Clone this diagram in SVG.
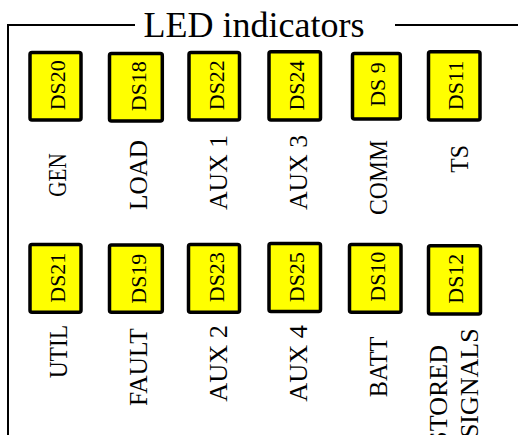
<svg xmlns="http://www.w3.org/2000/svg" width="518" height="435" viewBox="0 0 518 435">
<style>
.frame{fill:none;stroke:#000;stroke-width:2}
.led{fill:#ffff00;stroke:#000;stroke-width:3.5}
.ds{font-family:"Liberation Serif","Times New Roman",serif;font-size:22px;fill:#000;text-anchor:middle}
.lbl{font-family:"Liberation Serif","Times New Roman",serif;font-size:26px;fill:#000}
.title{font-family:"Liberation Serif","Times New Roman",serif;font-size:36px;fill:#000}
</style>
<rect width="518" height="435" fill="#fff"/>
<g id="frame">
<polyline class="frame" points="135,25 8,25 8,435"/>
<line class="frame" x1="395" y1="25" x2="518" y2="25"/>
<text class="title" x="143.5" y="37">LED indicators</text>
</g>
<g id="connectors"/>
<g id="DS20"><rect class="led" x="30" y="52.5" width="51" height="67.5" rx="2"/><text class="ds" transform="translate(65,85.3) rotate(-90)">DS20</text></g>
<g id="DS18"><rect class="led" x="109.5" y="53.5" width="52.8" height="67.5" rx="2"/><text class="ds" transform="translate(145.7,86.2) rotate(-90)">DS18</text></g>
<g id="DS22"><rect class="led" x="189" y="52.5" width="50.5" height="67.5" rx="2"/><text class="ds" transform="translate(224,85.2) rotate(-90)">DS22</text></g>
<g id="DS24"><rect class="led" x="269" y="51.8" width="51.5" height="68.2" rx="2"/><text class="ds" transform="translate(304,85.5) rotate(-90)">DS24</text></g>
<g id="DS9"><rect class="led" x="352.5" y="53.5" width="47.8" height="65.5" rx="2"/><text class="ds" transform="translate(385,84.5) rotate(-90)">DS 9</text></g>
<g id="DS11"><rect class="led" x="428.5" y="51.8" width="51.5" height="68.2" rx="2"/><text class="ds" transform="translate(463.3,85.5) rotate(-90)">DS11</text></g>
<g id="DS21"><rect class="led" x="30" y="244.5" width="51" height="67.8" rx="2"/><text class="ds" transform="translate(65,277.7) rotate(-90)">DS21</text></g>
<g id="DS19"><rect class="led" x="109.5" y="245" width="52.8" height="67.3" rx="2"/><text class="ds" transform="translate(145.7,278.7) rotate(-90)">DS19</text></g>
<g id="DS23"><rect class="led" x="188.5" y="244.5" width="51" height="67.8" rx="2"/><text class="ds" transform="translate(224,277.2) rotate(-90)">DS23</text></g>
<g id="DS25"><rect class="led" x="269" y="243.5" width="51.5" height="68" rx="2"/><text class="ds" transform="translate(304,277.2) rotate(-90)">DS25</text></g>
<g id="DS10"><rect class="led" x="349.5" y="244.5" width="51.5" height="67.8" rx="2"/><text class="ds" transform="translate(385,276.7) rotate(-90)">DS10</text></g>
<g id="DS12"><rect class="led" x="428.5" y="245.8" width="52" height="68.2" rx="2"/><text class="ds" transform="translate(463.3,278.7) rotate(-90)">DS12</text></g>
<g id="labels">
<text class="lbl" transform="translate(66,196.7) rotate(-90)" textLength="43.4" lengthAdjust="spacingAndGlyphs">GEN</text>
<text class="lbl" transform="translate(146.7,210) rotate(-90)" textLength="70" lengthAdjust="spacingAndGlyphs">LOAD</text>
<text class="lbl" transform="translate(226.7,210) rotate(-90)" textLength="75" lengthAdjust="spacingAndGlyphs">AUX 1</text>
<text class="lbl" transform="translate(306.7,210) rotate(-90)" textLength="75" lengthAdjust="spacingAndGlyphs">AUX 3</text>
<text class="lbl" transform="translate(386.7,215) rotate(-90)" textLength="75" lengthAdjust="spacingAndGlyphs">COMM</text>
<text class="lbl" transform="translate(467.7,172.7) rotate(-90)" textLength="27.7" lengthAdjust="spacingAndGlyphs">TS</text>
<text class="lbl" transform="translate(66.7,378.3) rotate(-90)" textLength="53.3" lengthAdjust="spacingAndGlyphs">UTIL</text>
<text class="lbl" transform="translate(146.7,406) rotate(-90)" textLength="77.7" lengthAdjust="spacingAndGlyphs">FAULT</text>
<text class="lbl" transform="translate(226.7,401.7) rotate(-90)" textLength="76.7" lengthAdjust="spacingAndGlyphs">AUX 2</text>
<text class="lbl" transform="translate(306.7,401.7) rotate(-90)" textLength="76.7" lengthAdjust="spacingAndGlyphs">AUX 4</text>
<text class="lbl" transform="translate(386.7,397.3) rotate(-90)" textLength="60.7" lengthAdjust="spacingAndGlyphs">BATT</text>
<text class="lbl" transform="translate(447.3,345) rotate(-90)" text-anchor="end">STORED</text>
<text class="lbl" transform="translate(478.3,328.3) rotate(-90)" text-anchor="end">SIGNALS</text>
</g>
</svg>
